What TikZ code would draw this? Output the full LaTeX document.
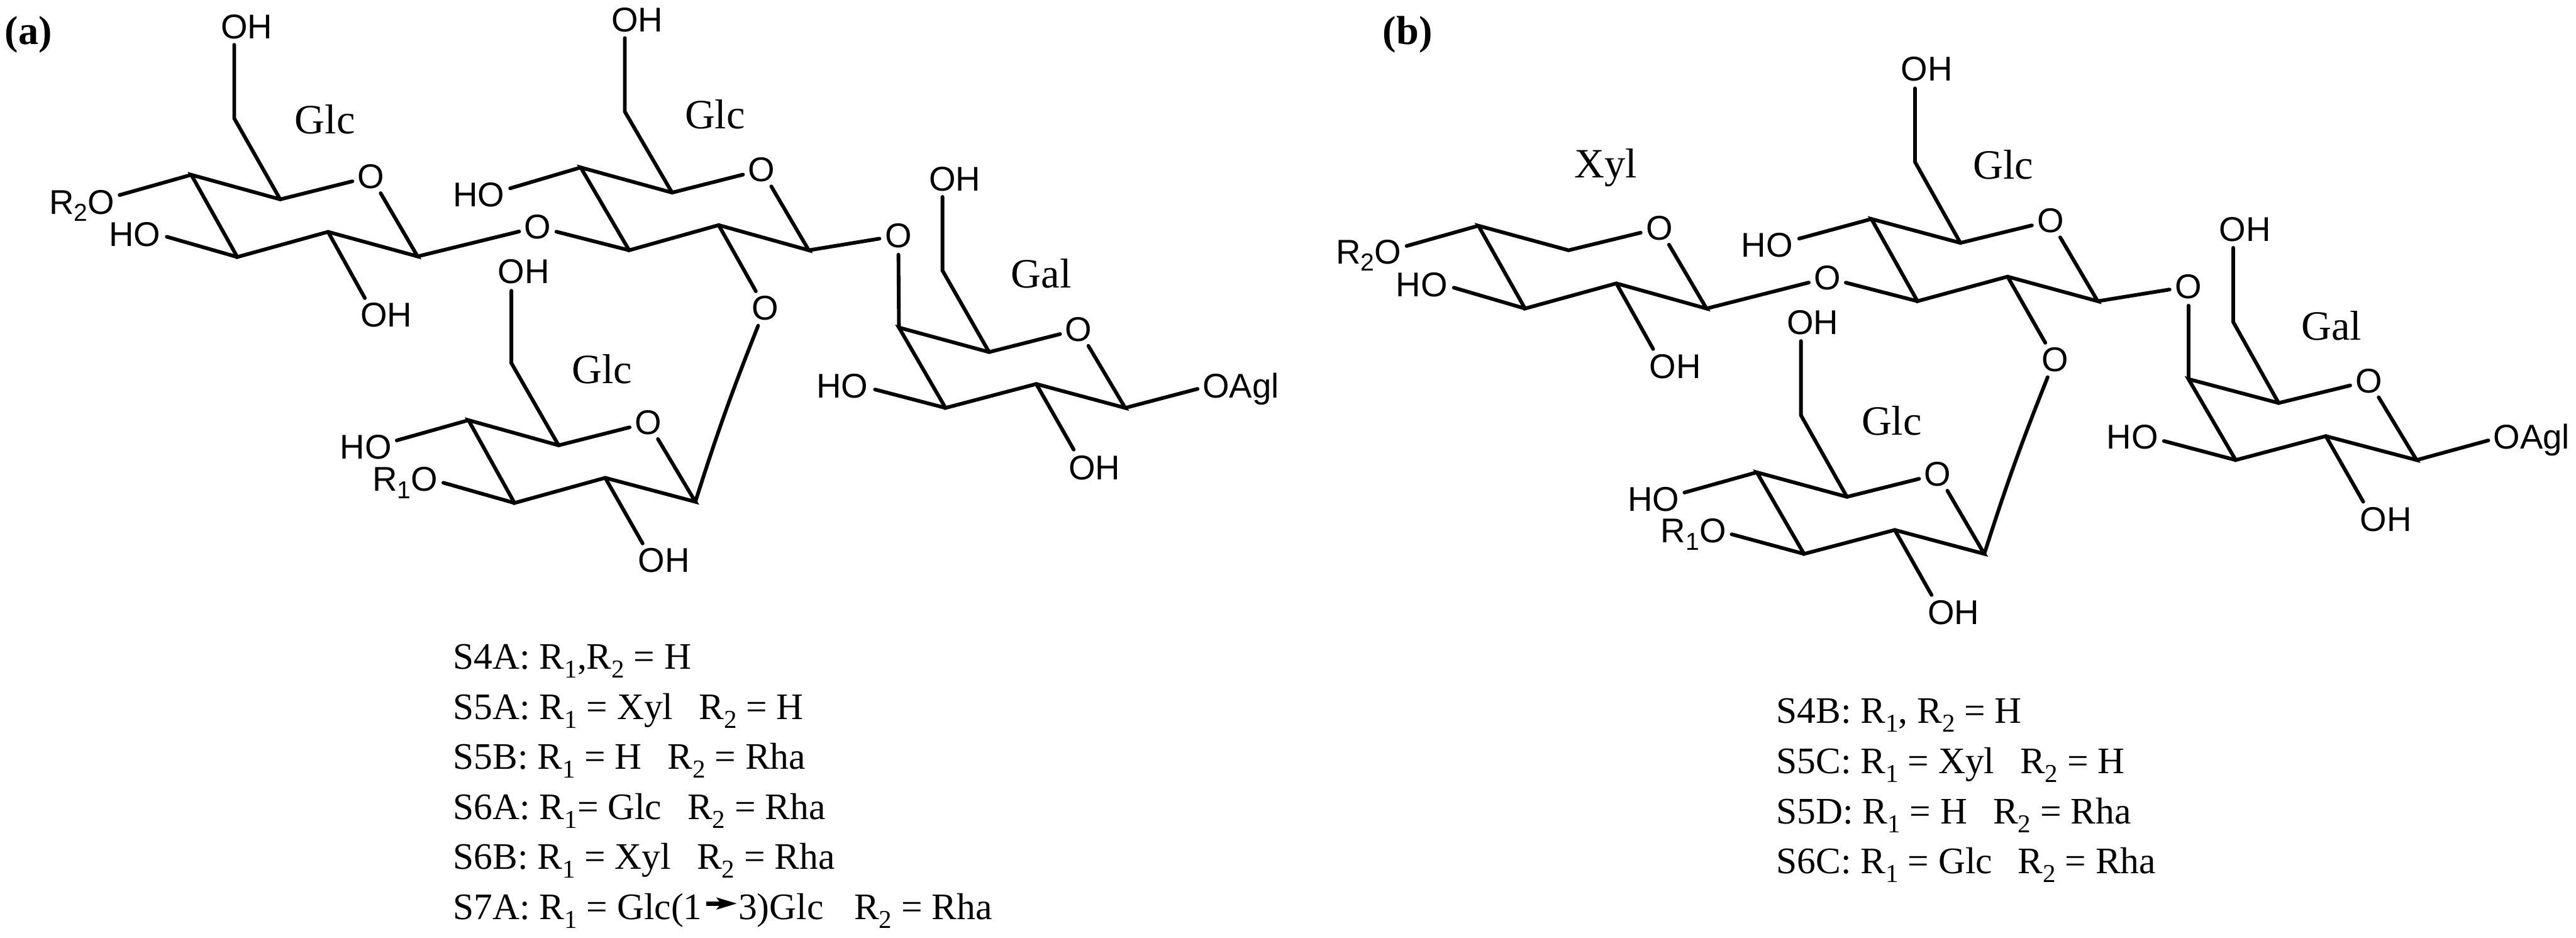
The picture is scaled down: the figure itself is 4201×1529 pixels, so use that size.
\documentclass[tikz,border=0pt]{standalone}
\usepackage{graphicx}
\usepackage{fontspec}
\usetikzlibrary{arrows.meta}
\setmainfont{Liberation Serif}
\newfontfamily\atomfam{Liberation Sans}
\newcommand{\atomfont}{\atomfam\fontsize{56}{56}\selectfont}
\newcommand{\capfont}{\rmfamily\fontsize{61}{61}\selectfont}
\newcommand{\sugarfont}{\rmfamily\fontsize{68}{68}\selectfont}
\newcommand{\asub}[1]{\raisebox{-12pt}{\fontsize{40}{40}\selectfont #1}}
\newcommand{\csub}[1]{\raisebox{-14pt}{\fontsize{42}{42}\selectfont #1}}
\newcommand{\gap}{\hspace{42pt}}
\tikzset{
  bond/.style={line width=6pt,line cap=round,line join=miter,black},
  ring/.style={circle,inner sep=0pt,minimum size=62pt,font=\atomfont},
  lab/.style={inner sep=0pt,font=\atomfont},
  labc/.style={lab,anchor=base},
  labe/.style={lab,anchor=base east},
  labw/.style={lab,anchor=base west},
  sugar/.style={inner sep=0pt,anchor=base,font=\sugarfont},
  panel/.style={inner sep=0pt,anchor=base west,font=\rmfamily\bfseries\fontsize{66}{66}\selectfont},
  entry/.style={inner sep=0pt,anchor=base west,font=\capfont},
  linkarrow/.style={line width=7.5pt,black,-{Stealth[length=33pt,width=19pt,inset=7pt]}}
}
\begin{document}
\begin{tikzpicture}[x=1pt,y=-1pt]
\useasboundingbox (0,0) rectangle (4201,1529);
\fill[white] (0,0) rectangle (4201,1529);

% ---------- panel (a) ----------
\node[panel] (pa) at (8,72) {(a)};

% ring carbons and free bond ends
\coordinate (a1) at (681,418); \coordinate (a2) at (535,378); \coordinate (a3) at (387,419);
\coordinate (a4) at (312,285); \coordinate (a5) at (457,325); \coordinate (a6) at (382,193);
\coordinate (a6e) at (382,73); \coordinate (a4e) at (195,318); \coordinate (a3e) at (272,386); \coordinate (a2e) at (595,486);
\coordinate (b1) at (1319,408); \coordinate (b2) at (1172,367); \coordinate (b3) at (1026,408);
\coordinate (b4) at (947,273); \coordinate (b5) at (1096,314); \coordinate (b6) at (1019,182);
\coordinate (b6e) at (1019,62); \coordinate (b4e) at (832,307);
\coordinate (g1) at (1835,665); \coordinate (g2) at (1690,626); \coordinate (g3) at (1542,665);
\coordinate (g4) at (1466,534); \coordinate (g5) at (1613,574); \coordinate (g6) at (1537,441);
\coordinate (g6e) at (1537,321); \coordinate (g3e) at (1427,635); \coordinate (g1e) at (1953,634); \coordinate (g2e) at (1751,733);
\coordinate (l1) at (1134,818); \coordinate (l2) at (987,779); \coordinate (l3) at (839,820);
\coordinate (l4) at (764,685); \coordinate (l5) at (911,726); \coordinate (l6) at (834,592);
\coordinate (l6e) at (834,474); \coordinate (l4e) at (647,718); \coordinate (l3e) at (723,787); \coordinate (l2e) at (1048,886);

% oxygens
\node[ring] (aO1) at (605,288) {O};
\node[ring] (aOx) at (877,370) {O};
\node[ring] (aO2) at (1242,277) {O};
\node[ring] (aOy) at (1465,384) {O};
\node[ring] (aOz) at (1248,502) {O};
\node[ring] (aO3) at (1759,537) {O};
\node[ring] (aO4) at (1057,689) {O};

% bonds
\draw[bond] (aO1) -- (a5) -- (a4) -- (a3) -- (a2) -- (a1) -- (aO1);
\draw[bond] (a5) -- (a6) -- (a6e);
\draw[bond] (a4) -- (a4e);
\draw[bond] (a3) -- (a3e);
\draw[bond] (a2) -- (a2e);
\draw[bond] (a1) -- (aOx);
\draw[bond] (aOx) -- (b3);
\draw[bond] (aO2) -- (b5) -- (b4) -- (b3) -- (b2) -- (b1) -- (aO2);
\draw[bond] (b5) -- (b6) -- (b6e);
\draw[bond] (b4) -- (b4e);
\draw[bond] (b1) -- (aOy);
\draw[bond] (aOy) -- (g4);
\draw[bond] (b2) -- (aOz);
\draw[bond] (aOz) to[bend right=2] (l1);
\draw[bond] (aO3) -- (g5) -- (g4) -- (g3) -- (g2) -- (g1) -- (aO3);
\draw[bond] (g5) -- (g6) -- (g6e);
\draw[bond] (g3) -- (g3e);
\draw[bond] (g1) -- (g1e);
\draw[bond] (g2) -- (g2e);
\draw[bond] (aO4) -- (l5) -- (l4) -- (l3) -- (l2) -- (l1) -- (aO4);
\draw[bond] (l5) -- (l6) -- (l6e);
\draw[bond] (l4) -- (l4e);
\draw[bond] (l3) -- (l3e);
\draw[bond] (l2) -- (l2e);

% atom labels
\node[labc] (aT1) at (402,63) {OH};
\node[labe] (aT2) at (187,349) {R\asub{2}O};
\node[labe] (aT3) at (262,402) {HO};
\node[labc] (aT4) at (630,533) {OH};
\node[labc] (aT5) at (1039,52) {OH};
\node[labe] (aT6) at (823,337) {HO};
\node[labc] (aT7) at (1557,311) {OH};
\node[labe] (aT8) at (1416,649) {HO};
\node[labw] (aT9) at (1961,649) {OAgl};
\node[labc] (aT10) at (1785,782) {OH};
\node[labc] (aT11) at (854,462) {OH};
\node[labe] (aT12) at (639,748) {HO};
\node[labe] (aT13) at (714,801) {R\asub{1}O};
\node[labc] (aT14) at (1083,933) {OH};

\node[sugar] (aS1) at (530,218) {Glc};
\node[sugar] (aS2) at (1166,210) {Glc};
\node[sugar] (aS3) at (982,625) {Glc};
\node[sugar] (aS4) at (1698,469) {Gal};

% entries
\node[entry] (e1) at (739,1091) {S4A: R\csub{1},R\csub{2} = H};
\node[entry] (e2) at (739,1173) {S5A: R\csub{1} = Xyl\gap R\csub{2} = H};
\node[entry] (e3) at (739,1254) {S5B: R\csub{1} = H\gap R\csub{2} = Rha};
\node[entry] (e4) at (739,1336) {S6A: R\csub{1}= Glc\gap R\csub{2} = Rha};
\node[entry] (e5) at (739,1417) {S6B: R\csub{1} = Xyl\gap R\csub{2} = Rha};
\node[entry] (e6a) at (739,1499) {S7A: R\csub{1} = Glc(1};
\node[entry] (e6b) at (1204,1499) {3)Glc\hspace{50pt}R\csub{2} = Rha};
\coordinate (e6s) at (1152,1473);
\coordinate (e6t) at (1202,1473);
\draw[linkarrow] (e6s) -- (e6t);

% ---------- panel (b) ----------
\node[panel] (pb) at (2255,72) {(b)};

\coordinate (x1) at (2783,503); \coordinate (x2) at (2636,462); \coordinate (x3) at (2487,503);
\coordinate (x4) at (2411,368); \coordinate (x5) at (2558,408);
\coordinate (x4e) at (2294,401); \coordinate (x3e) at (2371,469); \coordinate (x2e) at (2696,569);
\coordinate (y1) at (3421,491); \coordinate (y2) at (3274,451); \coordinate (y3) at (3127,491);
\coordinate (y4) at (3052,357); \coordinate (y5) at (3197,396); \coordinate (y6) at (3123,264);
\coordinate (y6e) at (3123,144); \coordinate (y4e) at (2934,389);
\coordinate (z1) at (3941,750); \coordinate (z2) at (3793,711); \coordinate (z3) at (3646,750);
\coordinate (z4) at (3569,618); \coordinate (z5) at (3716,657); \coordinate (z6) at (3642,525);
\coordinate (z6e) at (3642,404); \coordinate (z3e) at (3529,719); \coordinate (z1e) at (4058,718); \coordinate (z2e) at (3854,818);
\coordinate (m1) at (3236,903); \coordinate (m2) at (3090,864); \coordinate (m3) at (2942,903);
\coordinate (m4) at (2865,770); \coordinate (m5) at (3012,810); \coordinate (m6) at (2937,677);
\coordinate (m6e) at (2937,556); \coordinate (m4e) at (2747,803); \coordinate (m3e) at (2824,871); \coordinate (m2e) at (3150,970);

\node[ring] (bO1) at (2706,372) {O};
\node[ring] (bOx) at (2980,453) {O};
\node[ring] (bO2) at (3344,360) {O};
\node[ring] (bOy) at (3569,467) {O};
\node[ring] (bOz) at (3351,586) {O};
\node[ring] (bO3) at (3863,621) {O};
\node[ring] (bO4) at (3160,773) {O};

\draw[bond] (bO1) -- (x5) -- (x4) -- (x3) -- (x2) -- (x1) -- (bO1);
\draw[bond] (x4) -- (x4e);
\draw[bond] (x3) -- (x3e);
\draw[bond] (x2) -- (x2e);
\draw[bond] (x1) -- (bOx);
\draw[bond] (bOx) -- (y3);
\draw[bond] (bO2) -- (y5) -- (y4) -- (y3) -- (y2) -- (y1) -- (bO2);
\draw[bond] (y5) -- (y6) -- (y6e);
\draw[bond] (y4) -- (y4e);
\draw[bond] (y1) -- (bOy);
\draw[bond] (bOy) -- (z4);
\draw[bond] (y2) -- (bOz);
\draw[bond] (bOz) to[bend right=2] (m1);
\draw[bond] (bO3) -- (z5) -- (z4) -- (z3) -- (z2) -- (z1) -- (bO3);
\draw[bond] (z5) -- (z6) -- (z6e);
\draw[bond] (z3) -- (z3e);
\draw[bond] (z1) -- (z1e);
\draw[bond] (z2) -- (z2e);
\draw[bond] (bO4) -- (m5) -- (m4) -- (m3) -- (m2) -- (m1) -- (bO4);
\draw[bond] (m5) -- (m6) -- (m6e);
\draw[bond] (m4) -- (m4e);
\draw[bond] (m3) -- (m3e);
\draw[bond] (m2) -- (m2e);

\node[labe] (bT1) at (2285,430) {R\asub{2}O};
\node[labe] (bT2) at (2361,484) {HO};
\node[labc] (bT3) at (2732,617) {OH};
\node[labc] (bT4) at (3142,132) {OH};
\node[labe] (bT5) at (2924,419) {HO};
\node[labc] (bT6) at (3661,393) {OH};
\node[labe] (bT7) at (3520,732) {HO};
\node[labw] (bT8) at (4066,732) {OAgl};
\node[labc] (bT9) at (3891,866) {OH};
\node[labc] (bT10) at (2956,545) {OH};
\node[labe] (bT11) at (2739,833) {HO};
\node[labe] (bT12) at (2815,885) {R\asub{1}O};
\node[labc] (bT13) at (3186,1018) {OH};

\node[sugar] (bS1) at (2619,290) {Xyl};
\node[sugar] (bS2) at (3267,292) {Glc};
\node[sugar] (bS3) at (3085,709) {Glc};
\node[sugar] (bS4) at (3802,554) {Gal};

\node[entry] (f1) at (2897,1179) {S4B: R\csub{1}, R\csub{2} = H};
\node[entry] (f2) at (2897,1261) {S5C: R\csub{1} = Xyl\gap R\csub{2} = H};
\node[entry] (f3) at (2897,1343) {S5D: R\csub{1} = H\gap R\csub{2} = Rha};
\node[entry] (f4) at (2897,1424) {S6C: R\csub{1} = Glc\gap R\csub{2} = Rha};
\end{tikzpicture}
\end{document}
